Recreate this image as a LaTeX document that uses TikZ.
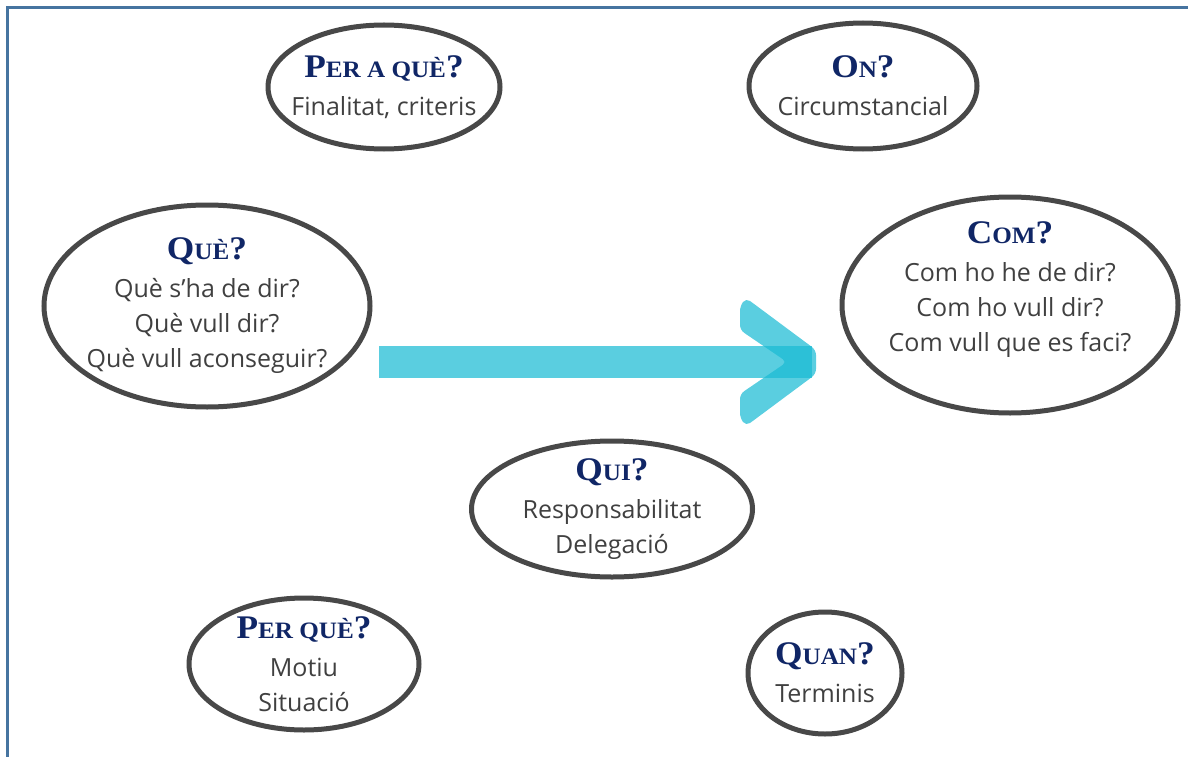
\documentclass[tikz,border=0pt]{standalone}
\usepackage{fontspec}
\setmainfont{Open Sans}
\newfontfamily\titfont[FakeStretch=1.07]{Liberation Serif}
\usetikzlibrary{shapes.geometric,calc}
\definecolor{titlenavy}{RGB}{16,38,102}
\definecolor{bodygray}{RGB}{64,64,64}
\definecolor{ringgray}{RGB}{72,72,72}
\definecolor{framebl}{RGB}{70,116,160}
\definecolor{arrowcy}{RGB}{26,187,212}
\newcommand{\tit}[3]{{\titfont\bfseries\color{titlenavy}\fontsize{33}{36}\selectfont #1{\fontsize{23.5}{26}\selectfont #2}#3}}
\newcommand{\padbelow}[1]{\rule[-#1]{0pt}{1pt}}
\tikzset{
  ring/.style={ellipse, draw=ringgray, line width=5pt, inner sep=-30pt, align=center, text=bodygray, font=\fontsize{25}{35}\selectfont},
  band/.style={fill=arrowcy, fill opacity=.72},
  boxline/.style={draw=framebl, line width=3pt}
}

\begin{document}
\begin{tikzpicture}[x=1pt,y=-1pt]
	\useasboundingbox (0,0) rectangle (1188,757);
	\draw[boxline] (7,757) -- (7,8) -- (1188,8);
	
	\node[ring, minimum width=232pt, minimum height=124pt] (pera) at (384,87) {\tit{P}{ER A QUÈ}{?}\\[3pt] Finalitat, criteris};
	\node[ring, minimum width=228pt, minimum height=126pt] (on) at (863,86) {\tit{O}{N}{?}\\[3pt] Circumstancial};
	\node[ring, minimum width=326pt, minimum height=202pt] (que) at (207,306) {\tit{Q}{UÈ}{?}\\[3pt] Què s’ha de dir?\\ Què vull dir?\\ Què vull aconseguir?};
	\node[ring, minimum width=336pt, minimum height=216pt] (com) at (1010,305) {\tit{C}{OM}{?}\\[3pt] Com ho he de dir?\\ Com ho vull dir?\\ Com vull que es faci?\padbelow{36pt}};
	\node[ring, minimum width=281pt, minimum height=136pt] (qui) at (612,509) {\tit{Q}{UI}{?}\\[3pt] Responsabilitat\\ Delegació};
	\node[ring, minimum width=230pt, minimum height=132pt] (perque) at (304,664) {\tit{P}{ER QUÈ}{?}\\[3pt] Motiu\\ Situació};
	\node[ring, minimum width=154pt, minimum height=122pt] (quan) at (825,673) {\tit{Q}{UAN}{?}\\[3pt] Terminis};
	
	\coordinate (a0) at (379,361.5);
	\coordinate (a1) at (816,362);
	\fill[band] ($(a0)+(0,-15.5)$) rectangle ($(a1)+(-4,15.5)$);
	\fill[band, rounded corners=5pt] ($(a1)+(-76,-56)$) -- ($(a1)+(-70,-64)$) -- ($(a1)+(0,-12)$) -- ($(a1)+(0,12)$)
		-- ($(a1)+(-70,64)$) -- ($(a1)+(-76,56)$) -- ($(a1)+(-76,32)$) -- ($(a1)+(-29,0)$) -- ($(a1)+(-76,-32)$) -- cycle;
	
\end{tikzpicture}
\end{document}
